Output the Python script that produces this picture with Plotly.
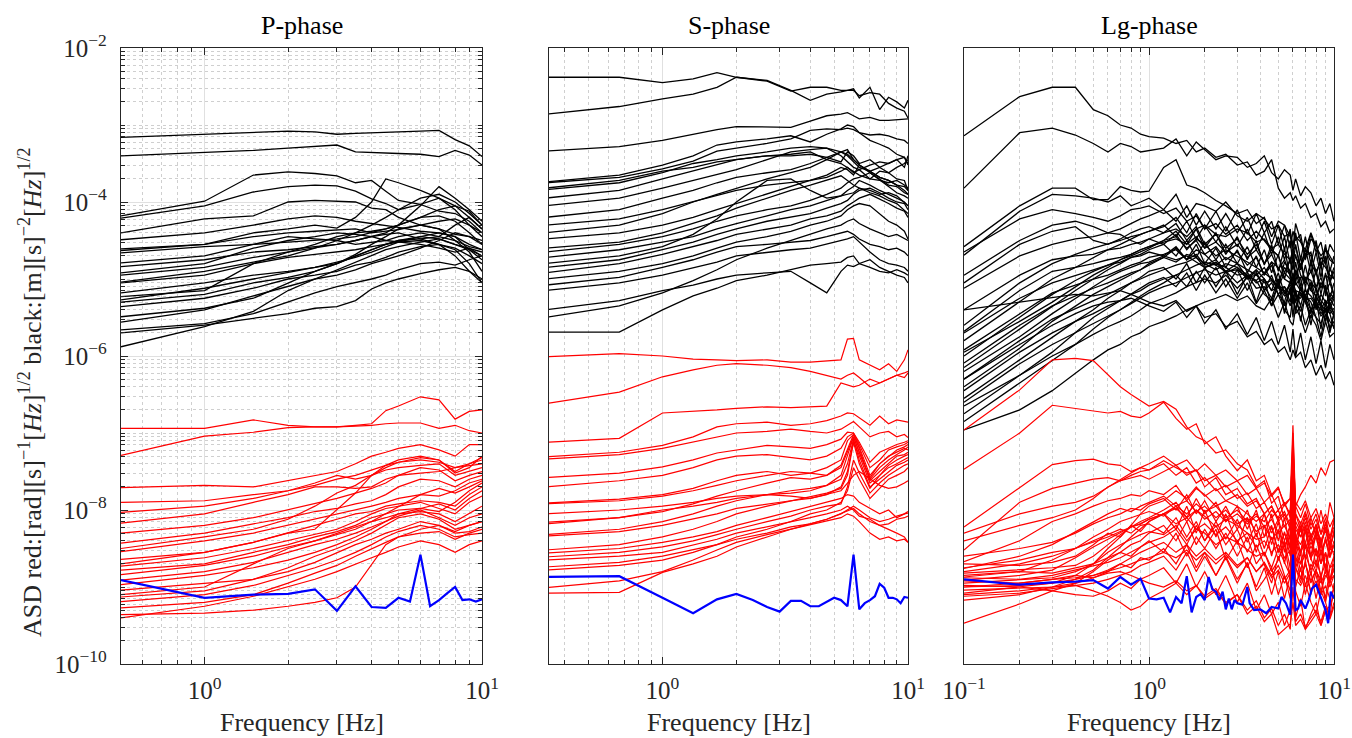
import numpy as np
import plotly.graph_objects as go

# ---------------- data (log10 of ASD values) ----------------
P_FREQ = [0.5, 1, 1.5, 2, 2.5, 3, 3.5, 4, 4.5, 5, 6, 7, 8, 9, 10]
P_BLACK = [
    [-3.16,-3.12,-3.09,-3.08,-3.09,-3.12,-3.11,-3.10,-3.10,-3.09,-3.08,-3.07,-3.19,-3.27,-3.41],
    [-3.40,-3.36,-3.33,-3.30,-3.28,-3.26,-3.35,-3.36,-3.37,-3.37,-3.38,-3.41,-3.33,-3.39,-3.52],
    [-4.18,-3.99,-3.65,-3.61,-3.63,-3.66,-3.75,-3.72,-3.86,-3.98,-4.03,-3.95,-4.05,-4.20,-4.35],
    [-4.21,-4.05,-3.87,-3.80,-3.78,-3.79,-3.86,-3.96,-4.02,-4.10,-4.03,-4.12,-4.15,-4.25,-4.40],
    [-4.40,-4.22,-4.18,-4.00,-3.98,-3.99,-4.00,-4.08,-4.10,-4.20,-4.30,-4.35,-4.42,-4.45,-4.50],
    [-4.49,-4.40,-4.30,-4.22,-4.18,-4.20,-4.25,-4.28,-4.30,-4.33,-4.38,-4.40,-4.45,-4.55,-4.62],
    [-4.61,-4.55,-4.40,-4.35,-4.30,-4.34,-4.20,-4.00,-3.70,-3.75,-3.85,-3.95,-4.10,-4.30,-4.45],
    [-4.63,-4.55,-4.45,-4.40,-4.38,-4.36,-4.35,-4.40,-4.38,-4.36,-4.30,-4.25,-4.22,-4.30,-4.40],
    [-4.66,-4.58,-4.55,-4.52,-4.50,-4.48,-4.45,-4.40,-4.35,-4.30,-4.20,-4.10,-4.05,-4.12,-4.30],
    [-4.79,-4.70,-4.55,-4.45,-4.48,-4.50,-4.55,-4.52,-4.50,-4.45,-4.40,-4.45,-4.30,-4.20,-4.35],
    [-4.84,-4.75,-4.65,-4.62,-4.58,-4.55,-4.50,-4.45,-4.40,-4.30,-4.05,-3.80,-3.95,-4.10,-4.25],
    [-4.92,-4.80,-4.60,-4.50,-4.45,-4.40,-4.42,-4.45,-4.50,-4.52,-4.55,-4.60,-4.65,-4.60,-4.70],
    [-5.04,-4.90,-4.78,-4.70,-4.60,-4.50,-4.40,-4.30,-4.20,-4.10,-3.95,-3.90,-4.00,-4.15,-4.30],
    [-5.05,-4.95,-4.80,-4.72,-4.68,-4.65,-4.62,-4.58,-4.55,-4.52,-4.50,-4.55,-4.60,-4.70,-4.80],
    [-5.18,-5.05,-4.95,-4.90,-4.85,-4.80,-4.70,-4.62,-4.55,-4.50,-4.48,-4.45,-4.50,-4.58,-4.62],
    [-5.23,-5.15,-4.80,-4.65,-4.55,-4.45,-4.40,-4.38,-4.35,-4.30,-4.20,-4.18,-4.25,-4.40,-4.55],
    [-5.27,-5.12,-5.00,-4.92,-4.85,-4.78,-4.72,-4.65,-4.58,-4.52,-4.45,-4.40,-4.45,-4.62,-4.75],
    [-5.30,-5.20,-5.05,-4.98,-4.90,-4.80,-4.68,-4.55,-4.45,-4.35,-4.30,-4.35,-4.50,-4.65,-4.90],
    [-5.36,-5.25,-5.12,-5.00,-4.95,-4.90,-4.82,-4.78,-4.72,-4.65,-4.58,-4.55,-4.62,-4.80,-5.05],
    [-5.49,-5.38,-5.25,-5.05,-4.90,-4.80,-4.70,-4.62,-4.55,-4.50,-4.45,-4.48,-4.55,-4.60,-4.65],
    [-5.56,-5.40,-5.22,-5.10,-5.00,-4.95,-4.88,-4.80,-4.75,-4.70,-4.60,-4.50,-4.40,-4.45,-4.55],
    [-5.66,-5.58,-5.45,-5.30,-5.18,-5.10,-5.05,-5.00,-4.95,-4.88,-4.80,-4.78,-4.82,-4.75,-4.70],
    [-5.70,-5.60,-5.51,-5.45,-5.38,-5.36,-5.28,-5.13,-5.05,-5.00,-4.93,-4.88,-4.85,-4.90,-5.00],
    [-5.88,-5.62,-5.42,-5.15,-5.00,-4.88,-4.78,-4.70,-4.62,-4.58,-4.52,-4.48,-4.55,-4.62,-4.70],
    [-4.95,-4.85,-4.72,-4.65,-4.60,-4.55,-4.50,-4.45,-4.42,-4.40,-4.48,-4.55,-4.70,-4.90,-5.05],
]
P_RED = [
    [-6.94,-6.94,-6.83,-6.90,-6.92,-6.92,-6.90,-6.88,-6.71,-6.65,-6.53,-6.57,-6.82,-6.72,-6.70],
    [-7.29,-7.04,-6.99,-6.93,-6.92,-6.92,-6.91,-6.90,-6.88,-6.87,-6.87,-6.94,-6.90,-6.97,-7.00],
    [-7.71,-7.68,-7.70,-7.62,-7.55,-7.50,-7.40,-7.30,-7.25,-7.20,-7.15,-7.22,-7.30,-7.15,-7.15],
    [-8.03,-7.95,-7.85,-7.75,-7.65,-7.55,-7.60,-7.55,-7.48,-7.45,-7.42,-7.40,-7.55,-7.50,-7.45],
    [-8.17,-8.05,-7.90,-7.80,-7.70,-7.70,-7.72,-7.70,-7.60,-7.55,-7.45,-7.48,-7.62,-7.55,-7.50],
    [-8.30,-8.20,-8.10,-8.00,-7.92,-7.85,-7.78,-7.72,-7.65,-7.55,-7.52,-7.50,-7.45,-7.42,-7.40],
    [-8.43,-8.30,-8.18,-8.10,-8.02,-7.98,-7.92,-7.88,-7.80,-7.70,-7.60,-7.62,-7.70,-7.60,-7.55],
    [-8.54,-8.40,-8.30,-8.20,-8.12,-8.05,-8.00,-7.95,-7.90,-7.85,-7.80,-7.82,-7.75,-7.65,-7.60],
    [-8.64,-8.55,-8.42,-8.30,-8.20,-8.12,-8.05,-8.02,-7.95,-7.92,-7.88,-7.90,-7.95,-7.80,-7.70],
    [-8.73,-8.62,-8.50,-8.40,-8.32,-8.25,-8.15,-8.05,-7.98,-7.95,-7.90,-7.98,-8.05,-7.90,-7.82],
    [-8.78,-8.70,-8.55,-8.45,-8.35,-8.28,-8.20,-8.10,-8.05,-8.00,-7.98,-7.92,-8.00,-7.85,-7.75],
    [-8.84,-8.72,-8.60,-8.48,-8.40,-8.30,-8.22,-8.15,-8.10,-8.05,-8.02,-8.05,-8.15,-8.05,-7.95],
    [-8.91,-8.80,-8.68,-8.55,-8.45,-8.38,-8.30,-8.22,-8.15,-8.08,-8.00,-8.10,-8.20,-8.10,-8.05],
    [-8.97,-8.85,-8.75,-8.65,-8.55,-8.45,-8.35,-8.25,-8.15,-8.05,-7.98,-8.02,-7.90,-7.75,-7.65],
    [-9.04,-8.95,-8.90,-8.75,-8.60,-8.50,-8.40,-8.30,-8.20,-8.10,-8.05,-8.12,-8.25,-8.20,-8.15],
    [-9.13,-9.05,-8.90,-8.80,-8.68,-8.55,-8.45,-8.38,-8.30,-8.25,-8.15,-8.20,-8.30,-8.28,-8.22],
    [-9.19,-9.10,-8.98,-8.85,-8.75,-8.65,-8.55,-8.45,-8.35,-8.28,-8.20,-8.25,-8.35,-8.32,-8.30],
    [-9.27,-9.20,-9.10,-8.95,-8.82,-8.72,-8.60,-8.50,-8.42,-8.35,-8.30,-8.28,-8.38,-8.30,-8.25],
    [-9.36,-9.34,-9.30,-9.25,-9.20,-9.14,-9.00,-8.70,-8.45,-8.35,-8.25,-8.20,-8.28,-8.20,-8.15],
    [-9.40,-9.25,-9.12,-9.00,-8.90,-8.80,-8.70,-8.62,-8.55,-8.48,-8.40,-8.45,-8.55,-8.45,-8.40],
    [-9.10,-9.00,-8.70,-8.50,-8.40,-8.32,-8.25,-8.15,-8.05,-7.95,-7.80,-7.72,-7.78,-7.70,-7.62],
    [-8.70,-8.55,-8.42,-8.30,-8.25,-8.00,-7.78,-7.55,-7.42,-7.35,-7.30,-7.35,-7.50,-7.40,-7.35],
    [-8.50,-8.35,-8.25,-8.12,-7.95,-7.78,-7.68,-7.55,-7.45,-7.38,-7.32,-7.35,-7.52,-7.45,-7.30],
    [-7.90,-7.88,-7.80,-7.75,-7.68,-7.60,-7.55,-7.48,-7.42,-7.38,-7.35,-7.38,-7.45,-7.40,-7.32],
]
P_BLUE_FREQ = [0.5, 1, 1.5, 2, 2.5, 3, 3.5, 4, 4.5, 5, 5.5, 6, 6.5, 7, 7.5, 8, 8.5, 9, 9.5, 10]
P_BLUE = [-8.91,-9.14,-9.10,-9.09,-9.03,-9.31,-8.99,-9.26,-9.27,-9.14,-9.19,-8.58,-9.25,-9.17,-9.08,-9.00,-9.17,-9.16,-9.19,-9.16]

S_FREQ = [0.333,0.667,1.0,1.333,1.667,2.0,2.667,3.333,4.0,4.667,5.333,5.667,6.0,6.333,7.0,7.667,8.333,9.0,9.667,10.0]
S_BLACK = [
    [-2.38,-2.38,-2.45,-2.40,-2.32,-2.38,-2.43,-2.56,-2.51,-2.51,-2.55,-2.55,-2.53,-2.65,-2.51,-2.80,-2.64,-2.70,-2.78,-2.68],
    [-2.86,-2.76,-2.66,-2.60,-2.51,-2.38,-2.42,-2.55,-2.68,-2.60,-2.57,-2.55,-2.55,-2.62,-2.58,-2.60,-2.72,-2.78,-2.82,-2.91],
    [-3.34,-3.28,-3.20,-3.12,-3.06,-3.02,-3.03,-3.03,-2.95,-2.88,-2.86,-2.84,-2.88,-2.92,-2.90,-2.94,-2.94,-2.93,-2.92,-2.92],
    [-3.74,-3.65,-3.52,-3.40,-3.26,-3.22,-3.18,-3.14,-3.22,-3.12,-3.05,-3.00,-3.02,-3.10,-3.13,-3.12,-3.14,-3.18,-3.20,-3.24],
    [-3.75,-3.68,-3.57,-3.47,-3.34,-3.30,-3.24,-3.18,-3.07,-3.05,-3.06,-3.04,-3.06,-3.10,-3.20,-3.25,-3.30,-3.38,-3.42,-3.52],
    [-3.84,-3.75,-3.62,-3.50,-3.45,-3.40,-3.35,-3.30,-3.28,-3.30,-3.35,-3.38,-3.45,-3.52,-3.60,-3.68,-3.72,-3.78,-3.80,-3.85],
    [-3.95,-3.85,-3.70,-3.60,-3.52,-3.45,-3.40,-3.38,-3.35,-3.45,-3.50,-3.55,-3.60,-3.65,-3.70,-3.60,-3.62,-3.55,-3.50,-3.45],
    [-4.05,-3.95,-3.82,-3.72,-3.65,-3.58,-3.45,-3.35,-3.32,-3.30,-3.40,-3.48,-3.55,-3.58,-3.70,-3.72,-3.75,-3.72,-3.78,-3.82],
    [-4.20,-4.10,-3.95,-3.85,-3.75,-3.68,-3.62,-3.58,-3.50,-3.42,-3.35,-3.32,-3.45,-3.52,-3.62,-3.70,-3.78,-3.80,-3.88,-3.90],
    [-4.40,-4.30,-4.15,-4.00,-3.90,-3.82,-3.70,-3.62,-3.55,-3.45,-3.35,-3.40,-3.48,-3.55,-3.60,-3.55,-3.62,-3.70,-3.72,-3.85],
    [-4.48,-4.40,-4.30,-4.20,-4.10,-4.02,-3.90,-3.80,-3.72,-3.65,-3.55,-3.58,-3.65,-3.52,-3.60,-3.68,-3.72,-3.78,-3.85,-3.90],
    [-4.60,-4.52,-4.40,-4.28,-4.18,-4.08,-3.95,-3.85,-3.78,-3.72,-3.66,-3.72,-3.78,-3.82,-3.88,-3.92,-3.98,-4.02,-4.10,-4.15],
    [-4.65,-4.55,-4.45,-4.35,-4.25,-4.18,-4.10,-4.05,-3.98,-3.90,-3.82,-3.75,-3.70,-3.68,-3.62,-3.72,-3.80,-3.88,-3.92,-3.95],
    [-4.72,-4.62,-4.52,-4.45,-4.35,-4.28,-4.18,-4.10,-4.05,-3.98,-3.92,-3.85,-3.80,-3.72,-3.78,-3.85,-3.90,-3.95,-4.00,-4.05],
    [-4.80,-4.70,-4.58,-4.42,-4.22,-4.00,-3.72,-3.70,-3.85,-3.95,-3.92,-3.90,-3.88,-3.82,-3.85,-3.90,-3.88,-3.92,-4.00,-4.05],
    [-4.85,-4.75,-4.62,-4.52,-4.42,-4.35,-4.25,-4.20,-4.15,-4.08,-4.02,-3.98,-3.90,-3.85,-3.82,-3.88,-3.95,-4.00,-4.02,-4.10],
    [-4.92,-4.80,-4.68,-4.58,-4.50,-4.42,-4.35,-4.30,-4.22,-4.18,-4.12,-4.05,-4.00,-3.95,-3.90,-3.96,-4.02,-4.08,-4.12,-4.20],
    [-5.00,-4.90,-4.80,-4.70,-4.60,-4.52,-4.45,-4.38,-4.30,-4.25,-4.18,-4.10,-4.05,-4.02,-4.05,-4.15,-4.25,-4.30,-4.38,-4.48],
    [-5.08,-4.98,-4.85,-4.75,-4.65,-4.58,-4.55,-4.52,-4.50,-4.45,-4.40,-4.38,-4.42,-4.48,-4.55,-4.58,-4.62,-4.60,-4.65,-4.70],
    [-5.15,-5.05,-4.95,-4.85,-4.78,-4.70,-4.65,-4.62,-4.60,-4.55,-4.50,-4.48,-4.45,-4.52,-4.65,-4.75,-4.80,-4.82,-4.85,-4.90],
    [-5.40,-5.28,-5.15,-5.08,-5.00,-4.95,-4.92,-4.90,-5.05,-5.18,-4.90,-4.82,-4.84,-4.80,-4.85,-4.90,-4.92,-4.88,-4.92,-4.95],
    [-5.69,-5.69,-5.40,-5.22,-5.12,-5.02,-4.95,-4.88,-4.82,-4.80,-4.78,-4.72,-4.70,-4.80,-4.75,-4.85,-4.90,-4.95,-4.98,-5.05],
    [-5.50,-5.35,-5.18,-5.02,-4.88,-4.75,-4.60,-4.50,-4.42,-4.35,-4.30,-4.25,-4.22,-4.28,-4.35,-4.40,-4.45,-4.42,-4.48,-4.50],
    [-4.30,-4.22,-4.10,-4.00,-3.92,-3.85,-3.78,-3.75,-3.72,-3.68,-3.60,-3.55,-3.62,-3.58,-3.52,-3.48,-3.50,-3.45,-3.42,-3.50],
    [-3.82,-3.72,-3.60,-3.55,-3.48,-3.45,-3.40,-3.40,-3.38,-3.42,-3.48,-3.35,-3.40,-3.50,-3.45,-3.55,-3.50,-3.45,-3.55,-3.40],
]
S_RED = [
    [-6.01,-5.97,-6.00,-6.04,-6.05,-6.06,-6.05,-6.08,-6.08,-6.06,-6.05,-5.78,-5.77,-6.05,-6.12,-6.18,-6.10,-6.20,-6.05,-5.92],
    [-6.62,-6.47,-6.27,-6.18,-6.12,-6.10,-6.12,-6.15,-6.20,-6.25,-6.30,-6.25,-6.22,-6.28,-6.40,-6.35,-6.30,-6.25,-6.22,-6.20],
    [-7.12,-7.07,-6.74,-6.72,-6.70,-6.68,-6.66,-6.67,-6.66,-6.65,-6.35,-6.38,-6.40,-6.38,-6.30,-6.35,-6.30,-6.25,-6.28,-6.22],
    [-7.31,-7.25,-7.16,-7.05,-6.92,-6.88,-6.86,-6.90,-6.88,-6.84,-6.78,-6.74,-6.75,-6.80,-6.90,-6.78,-6.88,-6.83,-6.85,-6.86],
    [-7.34,-7.28,-7.20,-7.12,-7.05,-7.00,-6.98,-6.95,-6.98,-7.00,-6.95,-6.90,-6.85,-6.92,-7.05,-7.00,-6.98,-7.05,-7.02,-7.06],
    [-7.58,-7.52,-7.44,-7.35,-7.26,-7.22,-7.16,-7.18,-7.20,-7.15,-7.08,-6.99,-7.00,-7.12,-7.38,-7.25,-7.20,-7.15,-7.12,-7.10],
    [-7.70,-7.62,-7.55,-7.45,-7.35,-7.30,-7.28,-7.32,-7.35,-7.30,-7.20,-7.05,-7.00,-7.15,-7.45,-7.35,-7.22,-7.18,-7.15,-7.12],
    [-7.91,-7.86,-7.80,-7.72,-7.62,-7.55,-7.50,-7.55,-7.52,-7.45,-7.35,-7.10,-7.02,-7.18,-7.55,-7.40,-7.30,-7.25,-7.20,-7.22],
    [-7.92,-7.88,-7.82,-7.75,-7.68,-7.62,-7.55,-7.50,-7.52,-7.55,-7.45,-7.25,-7.05,-7.25,-7.60,-7.45,-7.35,-7.28,-7.22,-7.18],
    [-8.16,-8.10,-8.02,-7.92,-7.82,-7.75,-7.65,-7.58,-7.60,-7.55,-7.42,-7.20,-7.02,-7.20,-7.62,-7.50,-7.40,-7.30,-7.28,-7.25],
    [-8.18,-8.10,-8.00,-7.95,-7.90,-7.85,-7.80,-7.82,-7.85,-7.80,-7.70,-7.50,-7.10,-7.30,-7.65,-7.55,-7.45,-7.40,-7.35,-7.32],
    [-8.32,-8.25,-8.15,-8.05,-7.95,-7.88,-7.80,-7.75,-7.72,-7.68,-7.60,-7.40,-7.08,-7.35,-7.70,-7.60,-7.50,-7.42,-7.38,-7.35],
    [-8.34,-8.28,-8.20,-8.12,-8.05,-7.98,-7.92,-7.88,-7.85,-7.80,-7.75,-7.65,-7.55,-7.50,-7.60,-7.68,-7.72,-7.70,-7.65,-7.62],
    [-8.52,-8.45,-8.35,-8.25,-8.15,-8.05,-7.95,-7.88,-7.82,-7.78,-7.72,-7.55,-7.12,-7.40,-7.72,-7.55,-7.42,-7.35,-7.30,-7.28],
    [-8.56,-8.50,-8.42,-8.35,-8.28,-8.20,-8.10,-8.02,-7.95,-7.90,-7.85,-7.80,-7.82,-7.90,-7.98,-8.05,-8.00,-8.10,-8.05,-8.04],
    [-8.61,-8.55,-8.48,-8.40,-8.32,-8.25,-8.15,-8.08,-8.00,-7.95,-7.92,-7.70,-7.35,-7.52,-7.78,-7.65,-7.55,-7.48,-7.42,-7.40],
    [-8.65,-8.60,-8.55,-8.45,-8.38,-8.30,-8.22,-8.15,-8.10,-8.05,-8.00,-7.95,-8.00,-8.08,-8.12,-8.20,-8.25,-8.30,-8.35,-8.42],
    [-8.74,-8.68,-8.60,-8.52,-8.45,-8.38,-8.30,-8.22,-8.18,-8.12,-8.05,-8.02,-7.98,-8.05,-8.15,-8.20,-8.18,-8.12,-8.10,-8.08],
    [-8.78,-8.72,-8.65,-8.55,-8.45,-8.35,-8.25,-8.15,-8.05,-8.00,-7.90,-7.75,-7.45,-7.60,-7.85,-7.72,-7.60,-7.55,-7.50,-7.45],
    [-9.08,-9.07,-8.81,-8.70,-8.60,-8.48,-8.35,-8.25,-8.18,-8.12,-8.05,-8.00,-7.95,-8.00,-8.10,-8.15,-8.12,-8.08,-8.05,-8.02],
    [-9.01,-8.92,-8.80,-8.65,-8.52,-8.42,-8.32,-8.25,-8.20,-8.15,-8.10,-8.05,-8.08,-8.15,-8.30,-8.38,-8.35,-8.40,-8.38,-8.42],
    [-8.05,-8.00,-7.95,-7.90,-7.85,-7.82,-7.80,-7.78,-7.75,-7.68,-7.55,-7.30,-7.05,-7.25,-7.58,-7.40,-7.30,-7.22,-7.18,-7.15],
]
S_BLUE_FREQ = [0.333,0.667,1.0,1.333,1.667,2.0,2.333,2.667,3.0,3.333,3.667,4.0,4.333,4.667,5.0,
               5.333,5.667,6.0,6.333,6.667,7.0,7.333,7.667,8.0,8.333,8.667,9.0,9.333,9.667,10.0]
S_BLUE = [-8.87,-8.86,-9.14,-9.34,-9.16,-9.09,-9.17,-9.26,-9.32,-9.18,-9.18,-9.25,-9.25,-9.19,-9.14,
          -9.17,-9.25,-8.58,-9.29,-9.21,-9.17,-9.12,-8.96,-9.01,-9.14,-9.14,-9.16,-9.21,-9.13,-9.14]

LG_FREQ = [0.1,0.2,0.3,0.4,0.5,0.6,0.7,0.8,0.9,1.0,
           1.2,1.4,1.6,1.8,2.0,2.3,2.6,3.0,3.4,3.8,
           4.2,4.6,5.0,5.4,5.8,6.0,6.2,6.6,7.0,7.5,
           8.0,8.5,9.0,9.5,10.0]
LG_BLACK = [
    [-3.14,-2.63,-2.51,-2.51,-2.80,-2.88,-3.00,-3.04,-3.12,-3.15, -3.17,-3.24,-3.20,-3.35,-3.30,-3.42,-3.38,-3.52,-3.48,-3.65, -3.60,-3.45,-3.82,-3.95,-3.88,-3.98,-3.92,-4.08,-4.02,-4.20, -4.15,-4.32,-4.25,-4.40,-4.35],
    [-3.82,-3.10,-3.04,-3.13,-3.24,-3.35,-3.24,-3.28,-3.35,-3.33, -3.30,-3.18,-3.40,-3.22,-3.32,-3.45,-3.40,-3.42,-3.55,-3.50, -3.40,-3.62,-3.70,-3.58,-3.65,-3.85,-3.70,-3.92,-3.80,-3.88, -4.05,-3.95,-4.15,-4.02,-4.25],
    [-4.58,-4.05,-3.82,-3.82,-3.97,-3.97,-3.80,-3.85,-3.87,-3.86, -3.55,-3.45,-3.78,-3.82,-3.88,-3.98,-4.05,-4.15,-4.10,-4.28, -4.20,-4.45,-4.25,-4.30,-4.60,-4.38,-4.50,-4.42,-4.75,-4.48, -4.55,-4.85,-4.60,-4.70,-4.80],
    [-4.69,-4.12,-3.90,-3.92,-3.95,-4.00,-3.92,-4.05,-4.00,-3.95, -4.10,-3.90,-4.20,-4.02,-4.05,-4.12,-4.00,-4.18,-4.25,-4.15, -4.22,-4.35,-4.30,-4.45,-4.40,-4.55,-4.45,-4.52,-4.62,-4.40, -4.58,-4.70,-4.62,-4.75,-4.80],
    [-4.65,-4.22,-4.10,-4.15,-4.20,-4.25,-4.18,-4.10,-4.08,-4.05, -4.15,-4.08,-4.25,-4.18,-4.35,-4.28,-4.42,-4.30,-4.50,-4.38, -4.50,-4.62,-4.70,-4.45,-4.80,-4.62,-4.58,-4.85,-4.70,-4.65, -4.95,-4.72,-4.80,-5.05,-4.90],
    [-5.05,-4.55,-4.38,-4.32,-4.50,-4.55,-4.48,-4.40,-4.35,-4.32, -4.40,-4.28,-4.50,-4.35,-4.30,-4.42,-4.45,-4.35,-4.40,-4.52, -4.48,-4.60,-4.55,-4.68,-4.75,-4.62,-4.72,-4.82,-4.62,-4.70, -4.90,-4.78,-4.85,-4.95,-5.00],
    [-5.12,-4.70,-4.55,-4.48,-4.45,-4.40,-4.42,-4.50,-4.55,-4.48, -4.40,-4.35,-4.45,-4.32,-4.55,-4.42,-4.60,-4.48,-4.68,-4.55, -4.80,-4.62,-4.70,-4.92,-4.75,-4.88,-4.68,-4.95,-5.05,-4.80, -4.92,-5.12,-4.95,-5.00,-5.20],
    [-5.40,-4.95,-4.75,-4.70,-4.68,-4.62,-4.60,-4.55,-4.52,-4.48, -4.55,-4.42,-4.62,-4.48,-4.55,-4.70,-4.62,-4.70,-4.78,-4.85, -4.92,-4.78,-4.85,-5.00,-5.05,-4.92,-5.08,-4.98,-5.00,-5.15, -5.22,-5.05,-5.12,-5.28,-5.20],
    [-5.68,-5.15,-4.90,-4.85,-4.80,-4.75,-4.72,-4.68,-4.62,-4.58, -4.50,-4.45,-4.60,-4.50,-4.68,-4.58,-4.75,-4.65,-4.82,-4.72, -4.95,-4.78,-5.05,-4.85,-4.95,-5.10,-4.88,-5.15,-4.98,-5.02, -5.25,-5.05,-5.12,-5.35,-5.20],
    [-5.70,-5.25,-5.05,-4.95,-4.88,-4.82,-4.78,-4.72,-4.70,-4.65, -4.70,-4.58,-4.75,-4.62,-4.68,-4.82,-4.72,-4.80,-4.88,-4.95, -4.85,-5.02,-5.10,-4.92,-5.00,-5.12,-5.05,-5.15,-5.22,-5.05, -5.12,-5.28,-5.35,-5.18,-5.25],
    [-5.92,-5.45,-5.18,-5.08,-5.00,-4.95,-4.88,-4.82,-4.78,-4.72, -4.68,-4.62,-4.75,-4.68,-4.82,-4.75,-4.90,-4.80,-4.98,-4.88, -5.00,-5.15,-4.92,-5.20,-5.05,-5.00,-5.30,-5.12,-5.22,-5.05, -5.40,-5.20,-5.30,-5.45,-5.38],
    [-6.09,-5.60,-5.35,-5.22,-5.12,-5.05,-4.98,-4.92,-4.88,-4.82, -4.72,-4.78,-4.68,-4.72,-4.80,-4.88,-4.80,-4.85,-4.95,-5.02, -4.92,-5.00,-5.10,-5.18,-5.08,-5.12,-5.22,-5.25,-5.15,-5.22, -5.32,-5.40,-5.28,-5.35,-5.45],
    [-6.30,-5.80,-5.52,-5.38,-5.28,-5.20,-5.12,-5.05,-5.00,-4.95, -4.88,-4.82,-4.78,-4.72,-4.85,-4.78,-4.92,-4.85,-5.00,-4.90, -5.15,-4.95,-5.20,-5.10,-5.30,-5.05,-5.15,-5.35,-5.12,-5.40, -5.25,-5.32,-5.55,-5.30,-5.45],
    [-6.45,-5.95,-5.70,-5.55,-5.45,-5.35,-5.28,-5.20,-5.15,-5.08, -5.00,-4.95,-4.88,-4.82,-4.78,-4.82,-4.90,-4.88,-4.98,-4.95, -5.05,-5.02,-5.12,-5.10,-5.20,-5.25,-5.15,-5.18,-5.28,-5.25, -5.35,-5.32,-5.42,-5.40,-5.48],
    [-6.60,-6.10,-5.85,-5.70,-5.58,-5.48,-5.40,-5.32,-5.25,-5.18, -5.10,-5.05,-4.98,-4.92,-4.88,-4.95,-4.90,-5.05,-4.95,-5.12, -5.10,-5.25,-5.00,-5.35,-5.15,-5.22,-5.40,-5.20,-5.30,-5.50, -5.28,-5.45,-5.38,-5.65,-5.45],
    [-6.75,-6.25,-6.00,-5.85,-5.72,-5.62,-5.55,-5.48,-5.40,-5.32, -5.25,-5.18,-5.10,-5.05,-5.00,-5.05,-4.95,-5.12,-4.98,-5.02, -5.20,-5.28,-5.08,-5.15,-5.35,-5.20,-5.30,-5.42,-5.22,-5.30, -5.50,-5.58,-5.38,-5.45,-5.65],
    [-6.96,-6.70,-6.45,-6.22,-6.05,-5.92,-5.85,-5.75,-5.70,-5.62, -5.55,-5.48,-5.40,-5.35,-5.30,-5.25,-5.20,-5.28,-5.22,-5.35, -5.40,-5.25,-5.50,-5.30,-5.55,-5.60,-5.38,-5.50,-5.70,-5.48, -5.60,-5.80,-5.55,-5.75,-5.70],
    [-5.40,-5.30,-5.25,-5.20,-5.22,-5.18,-5.15,-5.20,-5.25,-5.30, -5.35,-5.28,-5.42,-5.35,-5.50,-5.45,-5.62,-5.55,-5.75,-5.68, -5.85,-5.78,-5.95,-5.88,-6.05,-5.92,-6.02,-5.95,-6.15,-6.05, -6.25,-6.12,-6.30,-6.20,-6.38],
    [-6.20,-5.75,-5.45,-5.25,-5.10,-4.98,-4.90,-4.85,-4.80,-4.78, -4.70,-4.75,-4.70,-4.78,-4.85,-4.80,-4.85,-4.95,-4.92,-5.05, -5.00,-5.15,-5.10,-5.22,-5.18,-5.32,-5.28,-5.18,-5.25,-5.40, -5.35,-5.48,-5.42,-5.55,-5.62],
    [-5.95,-5.55,-5.30,-5.10,-4.95,-4.85,-4.75,-4.68,-4.62,-4.58, -4.52,-4.48,-4.55,-4.45,-4.60,-4.52,-4.65,-4.55,-4.72,-4.62, -4.80,-4.68,-4.88,-4.75,-4.95,-4.82,-4.92,-4.82,-5.02,-4.90, -5.10,-4.98,-5.18,-5.05,-5.22],
    [-6.40,-5.90,-5.55,-5.35,-5.20,-5.10,-5.02,-4.95,-4.88,-4.80, -4.72,-4.60,-4.75,-4.55,-4.80,-4.60,-4.85,-4.62,-4.92,-4.70, -4.95,-4.82,-5.10,-4.78,-4.90,-5.20,-4.92,-5.00,-5.30,-5.05, -5.12,-5.35,-5.08,-5.40,-5.25],
    [-6.55,-6.05,-5.75,-5.55,-5.40,-5.25,-5.15,-5.05,-4.98,-4.90, -4.85,-5.00,-4.80,-5.05,-4.85,-5.10,-4.90,-5.20,-4.95,-5.30, -5.00,-5.35,-5.05,-5.45,-5.10,-5.50,-5.15,-5.55,-5.20,-5.60, -5.25,-5.65,-5.30,-5.70,-5.45],
    [-6.85,-6.35,-6.05,-5.85,-5.65,-5.50,-5.40,-5.30,-5.22,-5.15, -5.05,-4.95,-5.10,-4.90,-5.05,-4.85,-5.10,-4.88,-5.15,-4.92, -5.15,-5.05,-5.20,-5.30,-5.02,-5.25,-5.40,-5.10,-5.30,-5.45, -5.20,-5.38,-5.55,-5.25,-5.35],
    [-6.15,-5.65,-5.35,-5.15,-5.00,-4.88,-4.80,-4.72,-4.68,-4.62, -4.55,-4.70,-4.50,-4.72,-4.52,-4.75,-4.55,-4.80,-4.58,-4.85, -4.62,-4.92,-4.68,-5.00,-4.72,-5.05,-4.78,-5.10,-4.82,-5.15, -4.88,-5.20,-4.92,-5.25,-5.05],
    [-6.65,-6.25,-5.95,-5.70,-5.50,-5.38,-5.28,-5.20,-5.12,-5.05, -4.98,-5.10,-4.92,-5.15,-4.95,-5.18,-5.00,-5.25,-5.05,-5.32, -5.15,-5.35,-5.20,-5.40,-5.50,-5.22,-5.45,-5.35,-5.60,-5.40, -5.50,-5.75,-5.45,-5.65,-5.55],
    [-4.95,-4.50,-4.30,-4.25,-4.32,-4.40,-4.35,-4.28,-4.22,-4.18, -4.10,-4.25,-4.05,-4.30,-4.12,-4.35,-4.15,-4.40,-4.20,-4.48, -4.25,-4.55,-4.30,-4.62,-4.35,-4.70,-4.40,-4.75,-4.45,-4.80, -4.50,-4.85,-4.55,-4.90,-4.70],
    [-5.60,-5.05,-4.80,-4.68,-4.60,-4.55,-4.50,-4.45,-4.42,-4.38, -4.32,-4.20,-4.40,-4.15,-4.35,-4.12,-4.38,-4.10,-4.42,-4.15, -4.40,-4.25,-4.55,-4.30,-4.45,-4.60,-4.28,-4.50,-4.70,-4.42, -4.65,-4.52,-4.80,-4.55,-4.65],
    [-6.00,-5.50,-5.20,-5.02,-4.90,-4.82,-4.75,-4.70,-4.65,-4.60, -4.50,-4.38,-4.55,-4.35,-4.60,-4.40,-4.68,-4.45,-4.75,-4.50, -4.82,-4.55,-4.90,-4.60,-4.98,-4.65,-5.05,-4.70,-5.12,-4.75, -5.18,-4.80,-5.22,-4.85,-5.00],
    [-6.30,-5.85,-5.60,-5.45,-5.35,-5.30,-5.28,-5.25,-5.30,-5.35, -5.42,-5.30,-5.50,-5.35,-5.58,-5.40,-5.65,-5.45,-5.72,-5.50, -5.80,-5.55,-5.85,-5.60,-5.95,-5.65,-6.00,-5.70,-6.05,-5.75, -6.10,-5.80,-6.15,-5.85,-6.05],
    [-5.80,-5.30,-5.00,-4.85,-4.72,-4.62,-4.55,-4.48,-4.42,-4.38, -4.30,-4.45,-4.25,-4.48,-4.30,-4.52,-4.32,-4.58,-4.35,-4.62, -4.40,-4.68,-4.45,-4.75,-4.50,-4.82,-4.55,-4.88,-4.60,-4.92, -4.65,-4.98,-4.70,-5.02,-4.85],
]
LG_RED = [
    [-6.96,-6.44,-6.05,-6.03,-6.06,-6.25,-6.40,-6.50,-6.58,-6.65, -6.59,-6.69,-6.92,-7.05,-7.10,-7.26,-7.22,-7.40,-7.48,-7.70, -7.62,-7.91,-7.82,-8.13,-8.00,-7.10,-8.05,-8.26,-8.05,-8.35, -8.18,-8.44,-8.22,-8.52,-8.26],
    [-7.47,-7.00,-6.64,-6.68,-6.72,-6.74,-6.72,-6.78,-6.80,-6.74, -6.60,-6.81,-6.95,-6.88,-7.14,-7.05,-7.30,-7.49,-7.35,-7.62, -7.55,-7.80,-7.70,-7.95,-7.85,-6.90,-7.95,-8.10,-7.92,-8.20, -8.05,-8.30,-8.10,-8.35,-8.15],
    [-8.22,-7.71,-7.41,-7.36,-7.34,-7.40,-7.42,-7.50,-7.45,-7.48, -7.36,-7.45,-7.52,-7.48,-7.70,-7.58,-7.80,-7.72,-7.92,-7.85, -8.05,-7.95,-8.15,-8.05,-8.25,-7.20,-8.20,-8.35,-8.15,-8.40, -8.22,-8.45,-8.25,-8.50,-8.30],
    [-8.52,-7.90,-7.72,-7.65,-7.60,-7.58,-7.62,-7.55,-7.50,-7.48, -7.40,-7.55,-7.45,-7.65,-7.58,-7.75,-7.68,-7.85,-7.78,-7.98, -7.90,-8.10,-8.00,-8.22,-8.12,-7.40,-8.25,-8.35,-8.20,-8.45, -8.30,-8.55,-8.38,-8.60,-8.45],
    [-8.67,-8.40,-8.15,-8.05,-7.95,-7.88,-7.85,-7.80,-7.82,-7.75, -7.80,-7.68,-7.88,-7.72,-7.80,-7.95,-7.88,-7.95,-8.05,-8.15, -8.05,-8.30,-8.12,-8.40,-8.20,-7.60,-8.45,-8.25,-8.50,-8.35, -8.60,-8.42,-8.75,-8.50,-8.55],
    [-8.76,-8.60,-8.45,-8.28,-8.15,-8.05,-7.98,-8.02,-7.95,-7.90, -7.82,-7.95,-7.88,-8.02,-7.95,-8.10,-8.00,-8.18,-8.10,-8.28, -8.20,-8.38,-8.28,-8.45,-8.35,-7.80,-8.45,-8.55,-8.42,-8.62, -8.50,-8.70,-8.55,-8.75,-8.60],
    [-8.87,-8.80,-8.65,-8.50,-8.35,-8.25,-8.15,-8.10,-8.05,-8.02, -8.08,-7.95,-8.15,-8.00,-8.08,-8.22,-8.12,-8.20,-8.30,-8.38, -8.35,-8.20,-8.55,-8.30,-8.50,-7.95,-8.40,-8.70,-8.45,-8.62, -8.80,-8.55,-8.75,-8.90,-8.70],
    [-8.91,-8.85,-8.78,-8.62,-8.48,-8.38,-8.30,-8.22,-8.18,-8.12, -8.05,-8.18,-8.10,-8.25,-8.18,-8.32,-8.22,-8.40,-8.30,-8.48, -8.40,-8.55,-8.45,-8.62,-8.52,-8.10,-8.62,-8.70,-8.58,-8.78, -8.65,-8.85,-8.70,-8.90,-8.78],
    [-8.95,-8.90,-8.88,-8.80,-8.70,-8.55,-8.45,-8.38,-8.32,-8.28, -8.32,-8.20,-8.40,-8.25,-8.30,-8.45,-8.35,-8.42,-8.52,-8.60, -8.55,-8.75,-8.50,-8.68,-8.85,-8.25,-8.60,-8.90,-8.70,-8.95, -8.78,-9.05,-8.85,-8.92,-8.85],
    [-9.00,-8.98,-8.95,-8.90,-8.85,-8.78,-8.70,-8.62,-8.55,-8.50, -8.42,-8.55,-8.45,-8.60,-8.50,-8.65,-8.55,-8.72,-8.62,-8.80, -8.70,-8.88,-8.78,-8.95,-8.82,-8.40,-8.90,-8.98,-8.85,-9.05, -8.92,-9.10,-8.98,-9.15,-9.02],
    [-9.04,-9.02,-9.00,-8.98,-9.05,-9.12,-9.20,-9.30,-9.25,-9.15, -9.05,-8.95,-9.10,-8.98,-9.15,-9.05,-9.22,-9.10,-9.30,-9.18, -9.40,-9.28,-9.50,-9.35,-9.55,-9.00,-9.45,-9.35,-9.52,-9.40, -9.30,-9.45,-9.25,-9.40,-9.20],
    [-9.47,-9.22,-9.05,-8.95,-8.88,-8.82,-8.80,-8.85,-8.90,-8.95, -9.00,-8.92,-9.05,-8.98,-9.12,-9.02,-9.20,-9.10,-9.35,-9.25, -9.45,-9.35,-9.62,-9.55,-9.48,-9.20,-9.50,-9.42,-9.55,-9.45, -9.35,-9.50,-9.30,-9.42,-9.25],
    [-9.08,-9.00,-8.95,-8.85,-8.70,-8.50,-8.35,-8.20,-8.05,-7.95, -7.88,-7.75,-7.85,-7.70,-7.82,-7.72,-7.88,-7.80,-7.95,-7.88, -8.05,-7.95,-8.12,-8.02,-8.20,-7.30,-8.15,-8.28,-8.10,-8.35, -8.20,-8.42,-8.25,-8.48,-8.30],
    [-9.17,-9.10,-9.00,-8.90,-8.78,-8.62,-8.48,-8.35,-8.25,-8.15, -8.05,-7.95,-8.05,-7.92,-8.02,-7.95,-8.10,-8.00,-8.15,-8.05, -8.22,-8.12,-8.30,-8.20,-8.38,-7.60,-8.35,-8.45,-8.28,-8.50, -8.35,-8.58,-8.40,-8.62,-8.45],
    [-8.40,-8.20,-8.10,-8.00,-7.85,-7.70,-7.62,-7.58,-7.55,-7.60, -7.50,-7.42,-7.55,-7.48,-7.62,-7.55,-7.70,-7.62,-7.80,-7.72, -7.90,-7.80,-8.00,-7.90,-8.10,-7.00,-8.05,-8.18,-8.02,-8.25, -8.12,-8.32,-8.18,-8.38,-8.22],
    [-8.30,-8.05,-7.95,-7.90,-7.82,-7.70,-7.60,-7.52,-7.45,-7.40, -7.30,-7.42,-7.35,-7.50,-7.40,-7.55,-7.48,-7.62,-7.55,-7.72, -7.65,-7.82,-7.72,-7.92,-7.85,-7.20,-7.90,-8.00,-7.88,-8.10, -7.98,-8.18,-8.05,-8.22,-8.10],
    [-8.80,-8.70,-8.60,-8.50,-8.42,-8.35,-8.28,-8.22,-8.18,-8.12, -8.05,-7.98,-8.10,-8.00,-8.12,-8.02,-8.15,-8.05,-8.18,-8.08, -8.15,-8.00,-8.10,-7.92,-8.05,-7.40,-7.95,-7.80,-7.70,-7.55, -7.65,-7.45,-7.55,-7.38,-7.35],
    [-9.00,-8.95,-8.90,-8.88,-8.85,-8.80,-8.75,-8.70,-8.65,-8.62, -8.55,-8.62,-8.52,-8.65,-8.55,-8.70,-8.58,-8.75,-8.62,-8.80, -8.68,-8.85,-8.72,-8.90,-8.78,-8.00,-8.75,-8.88,-8.70,-8.92, -8.78,-8.95,-8.80,-9.00,-8.85],
    [-8.70,-8.72,-8.68,-8.60,-8.45,-8.30,-8.35,-8.20,-8.28,-8.15, -8.05,-8.25,-7.95,-8.30,-8.00,-8.35,-8.05,-8.45,-8.10,-8.55, -8.20,-8.60,-8.25,-8.70,-8.30,-7.50,-8.55,-8.20,-8.65,-8.30, -8.75,-8.35,-8.80,-8.40,-8.60],
    [-8.85,-8.80,-8.82,-8.75,-8.70,-8.62,-8.55,-8.60,-8.48,-8.40, -8.55,-8.30,-8.60,-8.35,-8.50,-8.25,-8.65,-8.40,-8.75,-8.45, -8.70,-8.95,-8.60,-8.85,-9.05,-7.80,-8.75,-8.95,-8.65,-9.10, -8.80,-8.90,-9.15,-8.75,-8.70],
    [-8.92,-8.95,-8.90,-8.85,-8.88,-8.80,-8.70,-8.75,-8.62,-8.65, -8.50,-8.70,-8.45,-8.75,-8.55,-8.85,-8.60,-8.90,-8.70,-9.00, -8.75,-9.10,-8.80,-9.15,-8.85,-8.10,-9.00,-8.75,-9.10,-8.80, -9.15,-8.85,-9.20,-8.90,-9.05],
    [-9.10,-9.05,-9.00,-8.95,-8.80,-8.65,-8.55,-8.45,-8.40,-8.30, -8.20,-8.40,-8.15,-8.45,-8.25,-8.50,-8.30,-8.60,-8.35,-8.70, -8.55,-8.80,-8.65,-8.45,-8.90,-7.70,-8.75,-8.55,-9.00,-8.70, -8.85,-9.10,-8.75,-8.95,-8.75],
    [-8.60,-8.50,-8.42,-8.30,-8.18,-8.10,-8.05,-7.98,-8.00,-7.92, -7.85,-8.00,-7.80,-8.05,-7.88,-8.15,-7.95,-8.25,-8.00,-8.35, -8.05,-8.45,-8.15,-8.55,-8.20,-7.45,-8.35,-8.60,-8.25,-8.65, -8.30,-8.70,-8.35,-8.60,-8.40],
    [-8.98,-9.00,-9.05,-9.10,-9.12,-9.05,-8.95,-9.02,-8.90,-8.85, -8.75,-8.95,-8.70,-9.00,-8.80,-9.10,-8.85,-9.20,-8.95,-9.30, -9.10,-9.35,-9.20,-9.50,-9.30,-8.40,-9.40,-9.15,-9.55,-9.35, -9.20,-9.50,-9.30,-9.25,-9.10],
    [-8.82,-8.78,-8.75,-8.72,-8.60,-8.45,-8.32,-8.22,-8.15,-8.10, -8.00,-7.90,-8.10,-7.85,-8.05,-7.90,-8.15,-7.95,-8.25,-8.00, -8.35,-8.05,-8.40,-8.10,-8.50,-7.35,-8.30,-8.55,-8.20,-8.60, -8.25,-8.50,-8.15,-8.45,-8.10],
    [-9.12,-9.08,-9.02,-8.98,-8.95,-8.90,-8.85,-8.80,-8.72,-8.68, -8.60,-8.78,-8.55,-8.80,-8.60,-8.85,-8.62,-8.95,-8.68,-9.05, -8.90,-8.75,-9.10,-8.85,-9.15,-8.20,-9.05,-9.25,-8.95,-9.20, -9.35,-9.05,-9.20,-9.40,-8.95],
    [-8.75,-8.65,-8.55,-8.50,-8.40,-8.32,-8.25,-8.30,-8.20,-8.18, -8.30,-8.10,-8.35,-8.15,-8.40,-8.20,-8.45,-8.25,-8.55,-8.30, -8.60,-8.35,-8.65,-8.40,-8.75,-7.90,-8.50,-8.80,-8.45,-8.85, -8.50,-8.90,-8.55,-8.95,-8.60],
    [-8.88,-8.90,-8.85,-8.78,-8.72,-8.68,-8.62,-8.55,-8.48,-8.42, -8.35,-8.25,-8.45,-8.20,-8.40,-8.15,-8.38,-8.12,-8.42,-8.18, -8.50,-8.22,-8.55,-8.28,-8.60,-7.60,-8.40,-8.15,-8.45,-8.10, -8.35,-8.00,-8.30,-7.90,-8.10],
]
LG_BLUE_FREQ = [0.1,0.2,0.3,0.4,0.5,0.6,0.7,0.8,0.9,1.0,1.1,1.2,1.3,1.4,1.5,1.6,1.7,1.8,1.9,2.0,
                2.1,2.2,2.3,2.4,2.5,2.6,2.7,2.8,2.9,3.0,3.2,3.4,3.5,3.7,4.0,4.3,4.6,5.0,5.2,5.5,
                5.8,6.0,6.2,6.4,6.6,7.0,7.3,7.6,8.0,8.3,8.6,9.0,9.3,9.6,10.0]
LG_BLUE = [-8.90,-8.97,-8.94,-8.93,-8.91,-9.02,-8.87,-8.97,-8.89,-9.15,-9.16,-9.14,-9.33,-9.13,-9.21,-8.86,-9.33,-9.13,-9.09,-9.17,
           -8.87,-9.03,-9.06,-9.17,-9.06,-9.29,-9.15,-9.29,-9.17,-9.21,-9.23,-9.00,-9.21,-9.30,-9.29,-9.34,-9.26,-9.28,-9.13,-9.21,
           -9.36,-8.58,-9.30,-9.28,-9.17,-9.28,-9.17,-9.02,-8.97,-9.08,-9.17,-9.30,-9.47,-9.06,-9.15]

TITLES = ["P-phase", "S-phase", "Lg-phase"]
X_MIN = [0.5, 0.345, 0.1]
Y_TITLE = ("ASD red:[rad][s]<sup>\u22121</sup>[<i>Hz</i>]<sup>1/2</sup> "
           "black:[m][s]<sup>\u22122</sup>[<i>Hz</i>]<sup>1/2</sup>")

# ---------------- figure ----------------
W, H = 1352, 738
FONT = "Liberation Serif"
X_DOMAINS = [[121 / W, 482 / W], [549 / W, 908 / W], [964 / W, 1334 / W]]
Y_DOMAIN = [1 - 664 / H, 1 - 48 / H]

fig = go.Figure()

def add_group(idx, freqs, rows, color, width):
    xa = "x" if idx == 0 else f"x{idx + 1}"
    ya = "y" if idx == 0 else f"y{idx + 1}"
    for r in rows:
        fig.add_trace(go.Scatter(x=freqs, y=np.power(10.0, r), mode="lines",
                                 line=dict(color=color, width=width),
                                 xaxis=xa, yaxis=ya, hoverinfo="skip", showlegend=False))

add_group(0, P_FREQ, P_BLACK, "#000000", 1.3)
add_group(0, P_FREQ, P_RED, "#ff0000", 1.2)
add_group(0, P_BLUE_FREQ, [P_BLUE], "#0000ff", 2.2)
add_group(1, S_FREQ, S_BLACK, "#000000", 1.3)
add_group(1, S_FREQ, S_RED, "#ff0000", 1.2)
add_group(1, S_BLUE_FREQ, [S_BLUE], "#0000ff", 2.2)
add_group(2, LG_FREQ, LG_BLACK, "#000000", 1.3)
add_group(2, LG_FREQ, LG_RED, "#ff0000", 1.2)
add_group(2, LG_BLUE_FREQ, [LG_BLUE], "#0000ff", 2.2)

def exp_label(e):
    return "10<sup>" + (str(e) if e >= 0 else "\u2212" + str(-e)) + "</sup>"

minor_x_all = [m * 10.0 ** k for k in (-1, 0) for m in range(2, 10)]
layout = dict(
    width=W, height=H, margin=dict(l=0, r=0, t=0, b=0, autoexpand=False),
    paper_bgcolor="white", plot_bgcolor="white", showlegend=False,
    font=dict(family=FONT, size=25, color="#262626"),
)

AX_LINE = "#262626"
GRID = "#e0e0e0"
MGRID = "#cfcfcf"

for i in range(3):
    sfx = "" if i == 0 else str(i + 1)
    lo = X_MIN[i]
    majors = [v for v in (0.1, 1, 10) if v >= lo * 0.999]
    minors = [v for v in minor_x_all if lo < v < 10]
    layout["xaxis" + sfx] = dict(
        type="log", domain=X_DOMAINS[i], range=[np.log10(lo), 1.0], automargin=False,
        anchor="y" + sfx, showline=True, linecolor=AX_LINE, linewidth=1.3, mirror="ticks",
        ticks="inside", ticklen=7, tickcolor=AX_LINE,
        tickvals=majors, ticktext=[exp_label(int(round(np.log10(v)))) for v in majors],
        tickfont=dict(family=FONT, size=25, color="#262626"), ticklabelstandoff=4,
        showgrid=True, gridcolor=GRID, gridwidth=1,
        minor=dict(tickvals=minors, ticks="inside", ticklen=4, tickcolor=AX_LINE,
                   showgrid=True, gridcolor=MGRID, griddash="dot", gridwidth=1),
        zeroline=False,
    )
    ymaj = [1e-10, 1e-8, 1e-6, 1e-4, 1e-2]
    ymin = [m * 10.0 ** k for k in range(-10, -2) for m in range(1, 10)
            if not (m == 1 and k % 2 == 0)]
    if i == 0:
        layout["yaxis"] = dict(
            type="log", domain=Y_DOMAIN, range=[-10, -2], anchor="x", automargin=False,
            showline=True, linecolor=AX_LINE, linewidth=1.3, mirror="ticks",
            ticks="inside", ticklen=7, tickcolor=AX_LINE,
            tickvals=ymaj, ticktext=[exp_label(e) for e in (-10, -8, -6, -4, -2)],
            tickfont=dict(family=FONT, size=25, color="#262626"), ticklabelstandoff=8,
            showgrid=True, gridcolor=GRID, gridwidth=1,
            minor=dict(tickvals=ymin, ticks="inside", ticklen=4, tickcolor=AX_LINE,
                       showgrid=True, gridcolor=MGRID, griddash="dot", gridwidth=1),
            zeroline=False,
        )
    else:
        layout["yaxis" + sfx] = dict(
            type="log", domain=Y_DOMAIN, range=[-10, -2], anchor="x" + sfx, automargin=False,
            showline=True, linecolor=AX_LINE, linewidth=1.3, mirror=True,
            ticks="", showticklabels=False, showgrid=False, zeroline=False,
        )

fig.update_layout(**layout)

annotations = []
for i in range(3):
    cx = (X_DOMAINS[i][0] + X_DOMAINS[i][1]) / 2
    annotations.append(dict(text=TITLES[i], x=cx, y=1 - 26 / H, xref="paper", yref="paper",
                            xanchor="center", yanchor="middle", showarrow=False,
                            font=dict(family=FONT, size=26, color="#000000")))
    annotations.append(dict(text="Frequency [Hz]", x=cx, y=1 - 722 / H, xref="paper", yref="paper",
                            xanchor="center", yanchor="middle", showarrow=False,
                            font=dict(family=FONT, size=26, color="#262626")))
annotations.append(dict(text=Y_TITLE, x=30 / W, y=1 - 392 / H, xref="paper", yref="paper",
                        xanchor="center", yanchor="middle", showarrow=False, textangle=-90,
                        font=dict(family=FONT, size=26, color="#262626")))
fig.update_layout(annotations=annotations)

fig.write_html("out.html")
